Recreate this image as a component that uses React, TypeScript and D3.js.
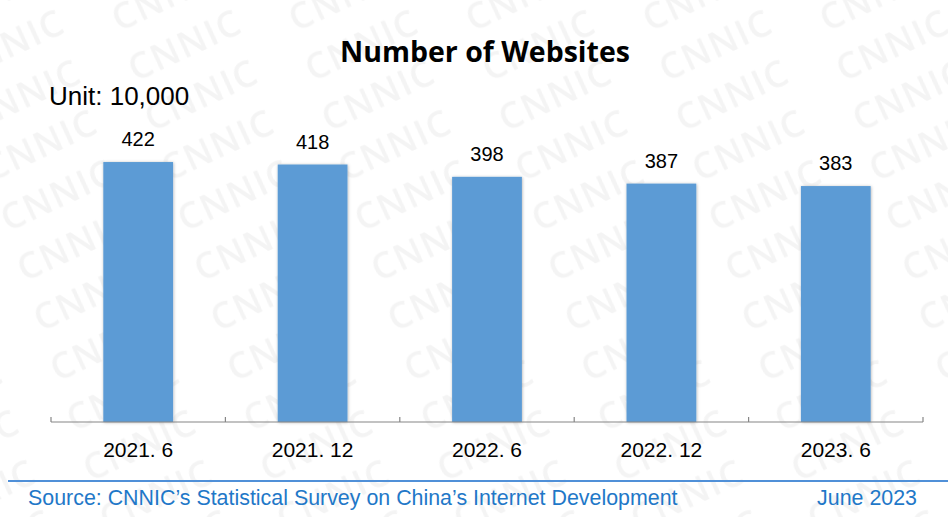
import React from "react";
import * as d3 from "d3";

const categories = ["2021. 6", "2021. 12", "2022. 6", "2022. 12", "2023. 6"];
const values = [422, 418, 398, 387, 383];
const title = "Number of Websites";
const unitLabel = "Unit: 10,000";
const sourceText = "Source: CNNIC\u2019s Statistical Survey on China\u2019s Internet Development";
const dateText = "June 2023";
const watermark = "CNNIC";

const W = 948;
const H = 517;
const axisLeft = 51;
const axisRight = 923;
const baseY = 422;

// watermark lattice: columns every 177px, rows every 50px shifted 16.5px right
const tileW = 177;
const tileH = 50;
const rowShift = 16.5;
const skewDeg = (Math.atan(rowShift / tileH) * 180) / Math.PI;

export default function App() {
  const x = d3.scaleBand<string>().domain(categories).range([axisLeft, axisRight]).paddingInner(0.6).paddingOuter(0.3);
  const y = d3.scaleLinear().domain([0, 500]).range([baseY, 114]);
  const tickXs = d3.range(categories.length + 1).map((i) => axisLeft + (i * (axisRight - axisLeft)) / categories.length);
  const offsets: [number, number][] = [];
  for (let i = -1; i <= 1; i++) for (let j = -1; j <= 2; j++) offsets.push([i * tileW, j * tileH]);

  return (
    <svg width={W} height={H} style={{ position: "absolute", left: 0, top: 0, background: "#fff" }} fontFamily="'Liberation Sans', Arial, sans-serif">
      <defs>
        <filter id="shadow" x="-20%" y="-5%" width="140%" height="110%">
          <feDropShadow dx="0.5" dy="0.5" stdDeviation="1.5" floodColor="#000" floodOpacity="0.3" />
        </filter>
        <pattern
          id="wm"
          patternUnits="userSpaceOnUse"
          width={tileW}
          height={tileH}
          x={8 - 232 * (rowShift / tileH)}
          y={232}
          patternTransform={`skewX(${skewDeg})`}
        >
          {offsets.map(([ox, oy], k) => (
            <text
              key={k}
              transform={`translate(${ox} ${oy}) skewX(${-skewDeg}) rotate(-25)`}
              fontFamily="'Open Sans', sans-serif"
              fontWeight={600}
              fontSize={36}
              fill="#f4f4f4"
              letterSpacing={1.5}
            >
              {watermark}
            </text>
          ))}
        </pattern>
      </defs>
      <rect x={0} y={0} width={W} height={H} fill="#fff" />
      <rect x={0} y={0} width={W} height={H} fill="url(#wm)" />
      <text x={485} y={62} textAnchor="middle" fontFamily="'Open Sans', sans-serif" fontWeight={700} fontSize={28.5} fill="#000">
        {title}
      </text>
      <text x={49} y={105} fontSize={26} fill="#000">
        {unitLabel}
      </text>
      {categories.map((c, i) => (
        <g key={c}>
          <rect x={x(c)} y={y(values[i])} width={x.bandwidth()} height={baseY - y(values[i])} fill="#5b9bd5" filter="url(#shadow)" />
          <text x={(x(c) ?? 0) + x.bandwidth() / 2} y={y(values[i]) - 16} textAnchor="middle" fontSize={20} fill="#000">
            {values[i]}
          </text>
          <text x={(x(c) ?? 0) + x.bandwidth() / 2} y={457} textAnchor="middle" fontSize={21} fill="#000">
            {c}
          </text>
        </g>
      ))}
      <line x1={axisLeft} x2={axisRight} y1={baseY} y2={baseY} stroke="#868686" strokeWidth={1.2} />
      {tickXs.map((tx, i) => (
        <line key={i} x1={tx} x2={tx} y1={baseY - 5} y2={baseY} stroke="#868686" strokeWidth={1.2} />
      ))}
      <line x1={8} x2={W} y1={481} y2={481} stroke="#5090d8" strokeWidth={2} />
      <text x={28} y={505} fontSize={21.4} fill="#1f78c8">
        {sourceText}
      </text>
      <text x={917} y={505} textAnchor="end" fontSize={21.4} fill="#1f78c8">
        {dateText}
      </text>
    </svg>
  );
}
